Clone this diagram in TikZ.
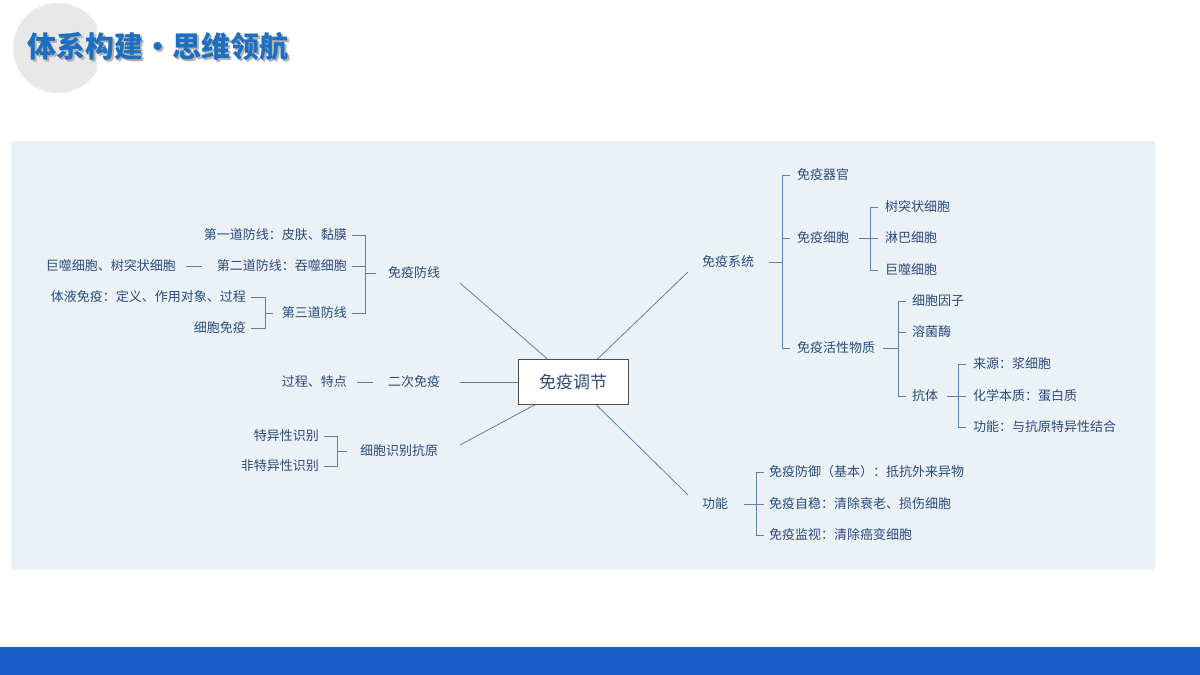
\documentclass[tikz,border=0pt]{standalone}
\usepackage{fontspec}
\setmainfont{Noto Sans CJK SC}
\newfontfamily\cjk{Noto Sans CJK SC}
\begin{document}
\begin{tikzpicture}[x=1pt,y=-1pt,
  t/.style={font=\fontsize{13}{15}\selectfont, text=txt, inner sep=0pt},
  tl/.style={t, anchor=west},
  tr/.style={t, anchor=east},
  ln/.style={draw=lin, line width=0.8pt}]
\definecolor{txt}{HTML}{2E4A7A}
\definecolor{lin}{HTML}{5F7FAE}
\definecolor{bg}{HTML}{EAF2F8}
\definecolor{ttl}{HTML}{1F6FC0}
\useasboundingbox (0,0) rectangle (1200,675);
\fill[white] (0,0) rectangle (1200,675);
\begin{scope}
\clip (0,0) rectangle (97,92);
\fill[gray!18] (58,48) circle (45);
\end{scope}
\fill[bg] (11,141) rectangle (1155,570);
\fill[ttl!85!blue] (0,647) rectangle (1200,675);
\node[font=\fontsize{29}{31}\selectfont\bfseries, text=gray!60, anchor=west, inner sep=0pt] at (29,48) {体系构建·思维领航};
\node[font=\fontsize{29}{31}\selectfont\bfseries, text=ttl, anchor=west, inner sep=0pt] (title) at (27,46) {体系构建·思维领航};
% center
\node[draw=black!70, fill=white, line width=0.8pt, minimum width=110pt, minimum height=45pt, font=\fontsize{17}{19}\selectfont, text=txt] (root) at (573,382) {免疫调节};
% right: immune system
\node[tl] (sys) at (702,262) {免疫系统};
\node[tl] (org) at (797,175) {免疫器官};
\node[tl] (cell) at (797,238) {免疫细胞};
\node[tl] (act) at (797,348) {免疫活性物质};
\node[tl] (c1) at (885,207) {树突状细胞};
\node[tl] (c2) at (885,238) {淋巴细胞};
\node[tl] (c3) at (885,270) {巨噬细胞};
\node[tl] (a1) at (912,301) {细胞因子};
\node[tl] (a2) at (912,332) {溶菌酶};
\node[tl] (ab) at (912,396) {抗体};
\node[tl] (b1) at (973,364) {来源：浆细胞};
\node[tl] (b2) at (973,396) {化学本质：蛋白质};
\node[tl] (b3) at (973,427) {功能：与抗原特异性结合};
\node[tl] (fn) at (702,504) {功能};
\node[tl] (f1) at (769,472) {免疫防御（基本）：抵抗外来异物};
\node[tl] (f2) at (769,504) {免疫自稳：清除衰老、损伤细胞};
\node[tl] (f3) at (769,535) {免疫监视：清除癌变细胞};
% left
\node[tl] (def) at (388,273) {免疫防线};
\node[tr] (d1) at (347,235) {第一道防线：皮肤、黏膜};
\node[tr] (d2) at (347,266) {第二道防线：吞噬细胞};
\node[tr] (d3) at (347,313) {第三道防线};
\node[tr] (m) at (176,266) {巨噬细胞、树突状细胞};
\node[tr] (e1) at (246,297) {体液免疫：定义、作用对象、过程};
\node[tr] (e2) at (246,328) {细胞免疫};
\node[tl] (sec) at (388,382) {二次免疫};
\node[tr] (sp) at (347,382) {过程、特点};
\node[tl] (rec) at (360,451) {细胞识别抗原};
\node[tr] (r1) at (319,436) {特异性识别};
\node[tr] (r2) at (319,466) {非特异性识别};
% main connectors
\draw[ln] (root.north west)++(30,0) -- (460,283);
\draw[ln] (root.north east)++(-31,0) -- (688,272);
\draw[ln] (root.west) -- (460,382);
\draw[ln] (root.south west)++(17,0) -- (460,445);
\draw[ln] (root.south east)++(-32,0) -- (688,495);
% right brackets
\draw[ln] (sys.east)++(25,0) -- ++(0,0) (sys.east -| 782,0) ++(-10,0) -- (782,262);
\draw[ln] (790,175) -| (782,348) -- (790,348) (782,238) -- (790,238);
\draw[ln] (sys.east)++(15,0) -- (782,262);
\draw[ln] (cell.east)++(10,0) -- (870,238);
\draw[ln] (878,207) -| (870,270) -- (878,270) (870,238) -- (878,238);
\draw[ln] (act.east)++(8,0) -- (898,348);
\draw[ln] (906,301) -| (898,396) -- (906,396) (898,332) -- (906,332);
\draw[ln] (ab.east)++(9,0) -- (958,396);
\draw[ln] (966,364) -| (958,427) -- (966,427) (958,396) -- (966,396);
\draw[ln] (fn.east)++(16,0) -- (756,504);
\draw[ln] (764,472) -| (756,535) -- (764,535) (756,504) -- (764,504);
% left brackets
\draw[ln] (352,235) -| (365,313) -- (352,313) (352,266) -- (365,266) (365,273) -- (376,273);
\draw[ln] (186,266) -- (202,266);
\draw[ln] (251,297) -| (265,328) -- (251,328) (265,313) -- (273,313);
\draw[ln] (357,382) -- (373,382);
\draw[ln] (324,436) -| (337,466) -- (324,466) (337,451) -- (347,451);
\end{tikzpicture}
\end{document}
